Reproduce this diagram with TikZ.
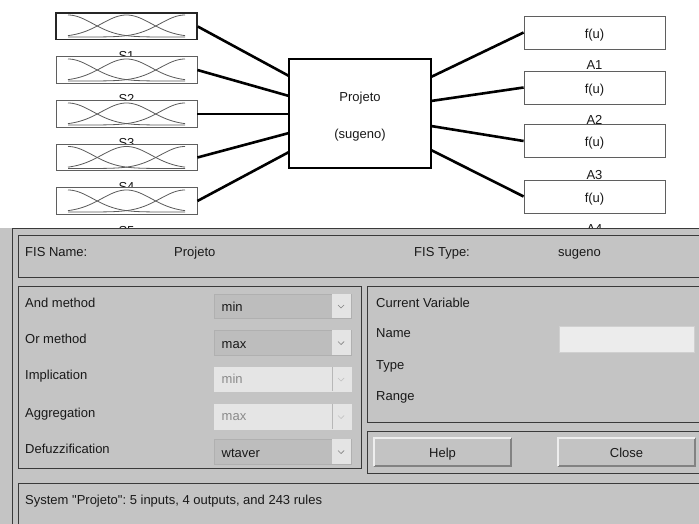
\documentclass[tikz,border=0pt]{standalone}
\usepackage{fontspec}
\setmainfont{Liberation Sans}[Ligatures=TeXOff]
\frenchspacing
\definecolor{panelgray}{RGB}{196,196,196}
\definecolor{framedark}{RGB}{58,58,58}
\definecolor{ddbody}{RGB}{189,189,189}
\definecolor{ddedge}{RGB}{176,176,176}
\definecolor{ddarrow}{RGB}{228,228,228}
\definecolor{ddoff}{RGB}{229,229,229}
\definecolor{txtoff}{RGB}{138,138,138}
\definecolor{mfgray}{RGB}{90,90,90}
\definecolor{boxgray}{RGB}{95,95,95}
\definecolor{editbg}{RGB}{236,236,236}
\definecolor{txt}{RGB}{25,25,25}
\definecolor{btnlight}{RGB}{238,238,238}
\definecolor{btndark}{RGB}{130,130,130}

% three Gaussian membership functions inside an input box (arg: box top)
\newcommand\mfcurves[1]{%
  \foreach \c in {68,126.5,185}{%
    \draw[mfline] plot[domain=68:185, samples=70, smooth]
      (\x, {#1+24-22*exp(-(\x-\c)*(\x-\c)/1234.1)});
  }}

\begin{document}
\begin{tikzpicture}[x=1pt, y=-1pt,
  font=\fontsize{13}{15}\selectfont, text=txt,
  inbox/.style={draw=boxgray, line width=0.8pt, fill=white,
    minimum width=141pt, minimum height=26.5pt, inner sep=0pt},
  outbox/.style={draw=boxgray, line width=0.8pt, fill=white,
    minimum width=141pt, minimum height=33pt, inner sep=0pt},
  sysbox/.style={draw=black, line width=2.5pt, fill=white,
    minimum width=142pt, minimum height=109pt, inner sep=0pt},
  mfline/.style={draw=mfgray, line width=0.8pt},
  wire/.style={draw=black, line width=2.6pt},
  lab/.style={anchor=base, inner sep=0pt},
  ptxt/.style={anchor=base west, inner sep=0pt},
  ctxt/.style={anchor=base, inner sep=0pt},
  frame/.style={draw=framedark, line width=1pt},
  ddon/.style={fill=ddbody, draw=ddedge, line width=0.6pt},
  ddoffbox/.style={fill=ddoff, draw=ddoff, line width=0.6pt},
  chev/.style={draw=btndark, line width=0.7pt},
  chevoff/.style={draw=ddoff!85!black, line width=0.7pt}]

\useasboundingbox (0,0) rectangle (699,524);
\fill[white] (0,0) rectangle (699,524);

% ---------- labels under the variable boxes (partly hidden by the next box)
\foreach \i/\yb in {1/60.3,2/104,3/147.8,4/191.5,5/235.3}
  \node[lab] (s\i lab) at (126.5,\yb) {S\i};
\foreach \i/\yb in {1/70,2/124.5,3/179,4/233.6}
  \node[lab] (a\i lab) at (594.5,\yb) {A\i};

% ---------- input variables
\node[inbox, line width=1.5pt, draw=black!85] (in1) at (126.5,26.5) {};
\node[inbox] (in2) at (126.5,70) {};
\node[inbox] (in3) at (126.5,114) {};
\node[inbox] (in4) at (126.5,157.5) {};
\node[inbox] (in5) at (126.5,201) {};
\mfcurves{13}
\mfcurves{57}
\mfcurves{101}
\mfcurves{144.5}
\mfcurves{188}

% ---------- output variables
\node[outbox] (out1) at (594.5,32.5) {};
\node[outbox] (out2) at (594.5,87.5) {};
\node[outbox] (out3) at (594.5,141) {};
\node[outbox] (out4) at (594.5,196.5) {};
\foreach \i/\yb in {1/38.3,2/93.3,3/146.8,4/202.3}
  \node[lab] (f\i) at (594.5,\yb) {f(u)};

% ---------- system block and its ports
\coordinate (pi1) at (289,76);
\coordinate (pi2) at (289,96);
\coordinate (pi3) at (289,114);
\coordinate (pi4) at (289,133);
\coordinate (pi5) at (289,152);
\coordinate (po1) at (431,77);
\coordinate (po2) at (431,101);
\coordinate (po3) at (431,126);
\coordinate (po4) at (431,150);
\foreach \i in {1,...,5} \draw[wire] (in\i.east) -- (pi\i);
\foreach \i in {1,...,4} \draw[wire] (po\i) -- (out\i.west);
\node[sysbox] (sys) at (360,113.5) {};
\node[lab] (sysname) at (360,101.7) {Projeto};
\node[lab] (systype) at (360,138.3) {(sugeno)};

% ---------- control panel
\fill[panelgray] (0,228) rectangle (699,524);
\draw[frame] (12,540) -- (12,228) -- (720,228);
\draw[frame] (18,235) rectangle (720,277);
\draw[frame] (18,286) rectangle (361,468);
\draw[frame] (367,286) rectangle (720,422);
\draw[frame] (367,431) rectangle (720,473);
\draw[frame] (18,483) rectangle (720,540);

\node[ptxt] (fisname) at (25,256.5) {FIS Name:};
\node[ptxt] (fisnamev) at (174,256.5) {Projeto};
\node[ptxt] (fistype) at (414,256.5) {FIS Type:};
\node[ptxt] (fistypev) at (558,256.5) {sugeno};

% drop-down menus
\filldraw[ddon] (214,294) rectangle (351,318);
\fill[ddarrow] (332,294.3) rectangle (350.7,317.7);
\draw[chev] (338,305) -- (341,308) -- (344,305);
\filldraw[ddon] (214,330) rectangle (351,355);
\fill[ddarrow] (332,330.3) rectangle (350.7,354.7);
\draw[chev] (338,341.5) -- (341,344.5) -- (344,341.5);
\filldraw[ddoffbox] (214,367) rectangle (351,391);
\draw[chevoff] (338,378) -- (341,381) -- (344,378);
\draw[ddoff!80!black, line width=0.4pt] (332,367) -- (332,391);
\filldraw[ddoffbox] (214,404) rectangle (351,429);
\draw[chevoff] (338,415.5) -- (341,418.5) -- (344,415.5);
\draw[ddoff!80!black, line width=0.4pt] (332,404) -- (332,429);
\filldraw[ddon] (214,439) rectangle (351,464);
\fill[ddarrow] (332,439.3) rectangle (350.7,463.7);
\draw[chev] (338,450.5) -- (341,453.5) -- (344,450.5);

\node[ptxt] (andm) at (25,307.5) {And method};
\node[ptxt] (orm) at (25,343.5) {Or method};
\node[ptxt] (impm) at (25,379.5) {Implication};
\node[ptxt] (aggm) at (25,417.5) {Aggregation};
\node[ptxt] (defm) at (25,453.5) {Defuzzification};
\node[ptxt] (andv) at (221.5,311.7) {min};
\node[ptxt] (orv) at (221.5,348.3) {max};
\node[ptxt, text=txtoff] (impv) at (221.5,383.5) {min};
\node[ptxt, text=txtoff] (aggv) at (221.5,420.5) {max};
\node[ptxt] (defv) at (221.5,457) {wtaver};

% current variable
\node[ptxt] (curvar) at (376,307.3) {Current Variable};
\node[ptxt] (vname) at (376,337.3) {Name};
\node[ptxt] (vtype) at (376,369.3) {Type};
\node[ptxt] (vrange) at (376,400.7) {Range};
\filldraw[fill=editbg, draw=editbg!88!black, line width=0.5pt] (559,326) rectangle (694,352);

% buttons
\foreach \xa/\xb in {374/511, 558/695}{
  \fill[panelgray!102] (\xa,438) rectangle (\xb,466);
  \draw[btndark, line width=1.2pt] (\xa,466) -- (\xb,466) -- (\xb,438);
  \draw[btnlight, line width=1.2pt] (\xa,466) -- (\xa,438) -- (\xb,438);
}
\node[ctxt] (help) at (442.5,457.3) {Help};
\node[ctxt] (close) at (626.5,457.3) {Close};

% status line
\node[ptxt] (status) at (25,504.3) {System "Projeto": 5 inputs, 4 outputs, and 243 rules};
\end{tikzpicture}
\end{document}
